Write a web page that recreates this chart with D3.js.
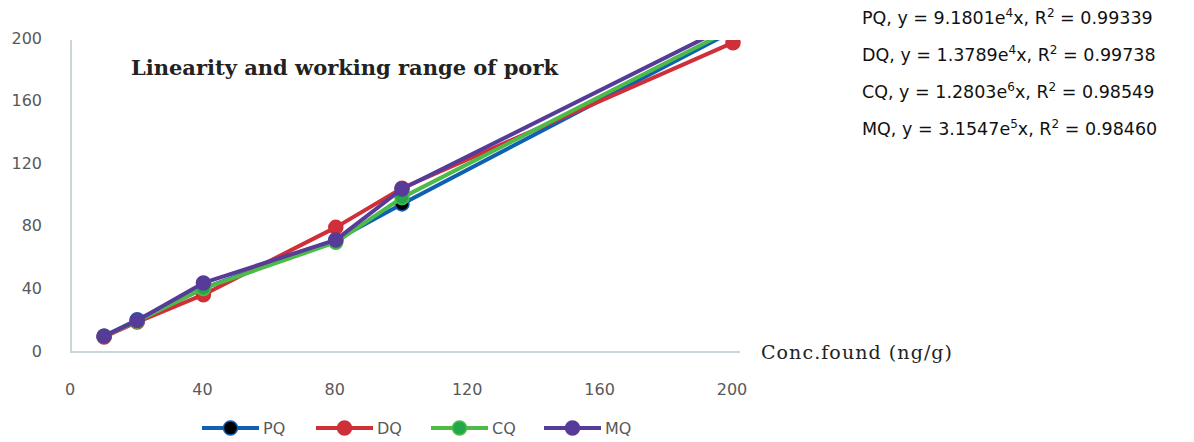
<!DOCTYPE html>
<html>
<head>
<meta charset="utf-8">
<script src="https://cdn.jsdelivr.net/npm/d3@7"></script>
<style>
  body { margin: 0; background: #fff; }
  svg { display: block; }
</style>
</head>
<body>
<div id="chart"></div>
<script>
// spiked concentration (ng/g)
var conc = [10, 20, 40, 80, 100, 200];
// found concentration per analyte
var pq = [9.5, 20, 40, 71, 94, 204.5];
var dq = [9, 18.5, 36, 79, 104, 197];
var cq = [9.5, 19, 40, 69.5, 98, 206];
var mq = [9.5, 19.5, 43.5, 71, 103.5, 209];
var seriesNames = ["PQ", "DQ", "CQ", "MQ"];
var xTicks = [0, 40, 80, 120, 160, 200];
var yTicks = [0, 40, 80, 120, 160, 200];
var equations = [
    ["PQ, y = 9.1801e", "4", "x, R", "2", " = 0.99339"],
    ["DQ, y = 1.3789e", "4", "x, R", "2", " = 0.99738"],
    ["CQ, y = 1.2803e", "6", "x, R", "2", " = 0.98549"],
    ["MQ, y = 3.1547e", "5", "x, R", "2", " = 0.98460"]
];

var W = 1194, H = 442;
var colors = {PQ: "#0f5fb3", DQ: "#cf2f38", CQ: "#4dbb48", MQ: "#573b99"};
var markerFill = {PQ: "#000000", DQ: "#cf2f38", CQ: "#22a84a", MQ: "#573b99"};
var values = {PQ: pq, DQ: dq, CQ: cq, MQ: mq};

var svg = d3.select("#chart").append("svg")
        .attr("width", W)
        .attr("height", H);

var x = d3.scaleLinear().domain([0, 200]).range([71, 733]);
var y = d3.scaleLinear().domain([0, 200]).range([351, 38]);

// clip at plot area
svg.append("defs").append("clipPath")
        .attr("id", "plotClip")
        .append("rect")
        .attr("x", 60).attr("y", 40)
        .attr("width", 700).attr("height", 320);

// axes lines (no ticks)
svg.append("line")
        .attr("x1", 71).attr("x2", 71)
        .attr("y1", 40).attr("y2", 352)
        .style("stroke", "#cad6d9").style("stroke-width", 2);
svg.append("line")
        .attr("x1", 70).attr("x2", 740)
        .attr("y1", 352).attr("y2", 352)
        .style("stroke", "#cad6d9").style("stroke-width", 2);

var tickFont = "'DejaVu Sans', Verdana, sans-serif";

svg.append("g").selectAll("text")
        .data(yTicks)
        .enter().append("text")
        .attr("x", 42)
        .attr("y", function (d) { return y(d); })
        .attr("dy", "0.35em")
        .attr("text-anchor", "end")
        .style("font-family", tickFont)
        .style("font-size", "16px")
        .style("fill", "#595959")
        .text(function (d) { return d; });

svg.append("g").selectAll("text")
        .data(xTicks)
        .enter().append("text")
        .attr("x", function (d) { return x(d) - 1; })
        .attr("y", 389)
        .attr("dy", "0.35em")
        .attr("text-anchor", "middle")
        .style("font-family", tickFont)
        .style("font-size", "16px")
        .style("fill", "#595959")
        .text(function (d) { return d; });

// series
var line = d3.line()
        .x(function (d, i) { return x(conc[i]); })
        .y(function (d) { return y(d); });

var plot = svg.append("g").attr("clip-path", "url(#plotClip)");

seriesNames.forEach(function (name) {
    var g = plot.append("g");
    g.append("path")
            .datum(values[name])
            .attr("d", line)
            .style("fill", "none")
            .style("stroke", colors[name])
            .style("stroke-width", 4)
            .style("stroke-linejoin", "round");
    g.selectAll("circle")
            .data(values[name])
            .enter().append("circle")
            .attr("cx", function (d, i) { return x(conc[i]); })
            .attr("cy", function (d) { return y(d); })
            .attr("r", 7)
            .style("fill", markerFill[name])
            .style("stroke", colors[name])
            .style("stroke-width", 1.5);
});

// title
svg.append("text")
        .attr("x", 131)
        .attr("y", 75)
        .style("font-family", "'DejaVu Serif', 'Liberation Serif', serif")
        .style("font-weight", "bold")
        .style("font-size", "21px")
        .style("fill", "#222")
        .text("Linearity and working range of pork");

svg.append("text")
        .attr("x", 761)
        .attr("y", 359)
        .style("font-family", "'DejaVu Serif', 'Liberation Serif', serif")
        .style("font-size", "19px")
        .attr("textLength", 191)
        .style("fill", "#222")
        .text("Conc.found (ng/g)");

// equations
var eq = svg.append("g").selectAll("text")
        .data(equations)
        .enter().append("text")
        .attr("x", 862)
        .attr("y", function (d, i) { return 24 + i * 37; })
        .style("font-family", tickFont)
        .style("font-size", "17.5px")
        .style("fill", "#111");
eq.each(function (parts) {
    var t = d3.select(this);
    parts.forEach(function (p, j) {
        var sp = t.append("tspan").text(p);
        if (j % 2 === 1) {
            sp.attr("dy", -7).style("font-size", "12px");
        } else if (j > 0) {
            sp.attr("dy", 7);
        }
    });
});

// legend
var legendX = [202, 316, 431, 544];
var lg = svg.append("g").selectAll("g")
        .data(seriesNames)
        .enter().append("g")
        .attr("transform", function (d, i) { return "translate(" + legendX[i] + ",428)"; });
lg.append("line")
        .attr("x1", 0).attr("x2", 57)
        .attr("y1", 0).attr("y2", 0)
        .style("stroke", function (d) { return colors[d]; })
        .style("stroke-width", 4);
lg.append("circle")
        .attr("cx", 28.5).attr("cy", 0).attr("r", 7)
        .style("fill", function (d) { return markerFill[d]; })
        .style("stroke", function (d) { return colors[d]; })
        .style("stroke-width", 1.5);
lg.append("text")
        .attr("x", 61).attr("y", 0).attr("dy", "0.35em")
        .style("font-family", tickFont)
        .style("font-size", "16px")
        .style("fill", "#595959")
        .text(function (d) { return d; });
</script>
</body>
</html>
